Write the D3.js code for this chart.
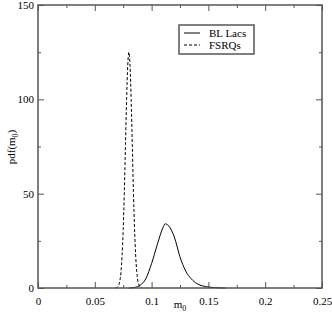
<!DOCTYPE html>
<html>
<head>
<meta charset="utf-8" />
<style>
  body { margin: 0; background: #fff; }
  text { font-family: "Liberation Serif", "DejaVu Serif", serif; font-size: 11px; fill: #000; }
  .frame { fill: none; stroke: #555; stroke-width: 1.5px; }
  .tick line { stroke: #555; stroke-width: 1px; }
</style>
</head>
<body>
<script src="https://d3js.org/d3.v7.min.js"></script>
<script>
// values
var blX = [0.080, 0.085, 0.090, 0.095, 0.100, 0.105, 0.110, 0.112, 0.115, 0.120, 0.125, 0.130, 0.135, 0.140, 0.145, 0.150, 0.155, 0.160, 0.165];
var blY = [0, 0.3, 1.5, 5, 13, 23, 32, 34, 33, 27, 16.5, 9, 4.8, 2.3, 1.1, 0.5, 0.2, 0.07, 0];

var fsX = [0.068, 0.069, 0.070, 0.071, 0.072, 0.073, 0.074, 0.075, 0.076, 0.077, 0.078, 0.079, 0.080,
           0.081, 0.082, 0.083, 0.084, 0.085, 0.086, 0.087, 0.088, 0.089, 0.090, 0.091, 0.092];
var fsY = [0.04, 0.15, 0.5, 1.4, 3.6, 8.2, 17, 31, 51, 76, 100, 118, 125,
           118, 100, 76, 51, 31, 17, 8.2, 3.6, 1.4, 0.5, 0.15, 0.04];

var xTicks = [0, 0.05, 0.1, 0.15, 0.2, 0.25];
var xMinor = [0.025, 0.075, 0.125, 0.175, 0.225];
var yTicks = [0, 50, 100, 150];
var yMinor = [25, 75, 125];
var legendNames = ["BL Lacs", "FSRQs"];

var W = 332, H = 316;
var m = {left: 38, right: 10, top: 5, bottom: 28};

var svg = d3.select("body").append("svg").attr("width", W).attr("height", H);

var x = d3.scaleLinear().domain([0, 0.25]).range([m.left, W - m.right]);
var y = d3.scaleLinear().domain([0, 150]).range([H - m.bottom, m.top]);

// inward ticks on all four sides
function ticks(axis, vals, len, fmt) {
  return axis.tickValues(vals).tickSize(len).tickSizeOuter(0).tickFormat(fmt);
}
var g;
g = svg.append("g").attr("transform", "translate(0," + y(0) + ")")
  .call(ticks(d3.axisTop(x), xTicks, 6, function(d) { return d3.format("")(d); }));
g.select(".domain").remove();
g.selectAll("text").attr("dy", null).attr("y", 9).attr("dominant-baseline", "hanging").style("font-size", "11px");
g = svg.append("g").attr("transform", "translate(0," + y(0) + ")")
  .call(ticks(d3.axisTop(x), xMinor, 3, ""));
g.select(".domain").remove();
g = svg.append("g").attr("transform", "translate(0," + y(150) + ")")
  .call(ticks(d3.axisBottom(x), xTicks, 6, ""));
g.select(".domain").remove();
g = svg.append("g").attr("transform", "translate(0," + y(150) + ")")
  .call(ticks(d3.axisBottom(x), xMinor, 3, ""));
g.select(".domain").remove();

g = svg.append("g").attr("transform", "translate(" + x(0) + ",0)")
  .call(ticks(d3.axisRight(y), yTicks, 6, d3.format("d")));
g.select(".domain").remove();
g.selectAll("text").attr("x", -4).attr("text-anchor", "end").attr("dy", "0.32em");
g = svg.append("g").attr("transform", "translate(" + x(0) + ",0)")
  .call(ticks(d3.axisRight(y), yMinor, 3, ""));
g.select(".domain").remove();
g = svg.append("g").attr("transform", "translate(" + x(0.25) + ",0)")
  .call(ticks(d3.axisLeft(y), yTicks, 6, ""));
g.select(".domain").remove();
g = svg.append("g").attr("transform", "translate(" + x(0.25) + ",0)")
  .call(ticks(d3.axisLeft(y), yMinor, 3, ""));
g.select(".domain").remove();

svg.selectAll(".tick text").attr("fill", "#000");

// curves
var line = d3.line()
  .x(function(d) { return x(d[0]); })
  .y(function(d) { return y(d[1]); })
  .curve(d3.curveMonotoneX);

svg.append("path")
  .datum(blX.map(function(v, i) { return [v, blY[i]]; }))
  .attr("d", line)
  .attr("fill", "none").attr("stroke", "#000").attr("stroke-width", 1);

svg.append("path")
  .datum(fsX.map(function(v, i) { return [v, fsY[i]]; }))
  .attr("d", line)
  .attr("fill", "none").attr("stroke", "#000").attr("stroke-width", 1)
  .attr("stroke-dasharray", "3,2");

// frame
svg.append("rect").attr("class", "frame")
  .attr("x", x(0)).attr("y", y(150))
  .attr("width", x(0.25) - x(0)).attr("height", y(0) - y(150));

// axis titles
var xt = svg.append("text").attr("x", (x(0) + x(0.25)) / 2).attr("y", 308).attr("text-anchor", "middle");
xt.append("tspan").text("m");
xt.append("tspan").attr("dy", 3).style("font-size", "8px").text("0");

var yt = svg.append("text")
  .attr("transform", "translate(15,147) rotate(-90)")
  .attr("text-anchor", "middle");
yt.append("tspan").text("pdf(m");
yt.append("tspan").attr("dy", 3).style("font-size", "8px").text("0");
yt.append("tspan").attr("dy", -3).text(")");

// legend
var lg = svg.append("g").attr("transform", "translate(179,25)");
lg.append("rect").attr("width", 75).attr("height", 29)
  .attr("fill", "#fff").attr("stroke", "#555").attr("stroke-width", 1.5);
legendNames.forEach(function(name, i) {
  var ly = 8 + i * 12;
  lg.append("line").attr("x1", 5).attr("x2", 21).attr("y1", ly).attr("y2", ly)
    .attr("stroke", "#000").attr("stroke-width", 1)
    .attr("stroke-dasharray", i === 1 ? "3,2" : null);
  lg.append("text").attr("x", 30).attr("y", ly).attr("dy", "0.35em").text(name);
});
</script>
</body>
</html>
